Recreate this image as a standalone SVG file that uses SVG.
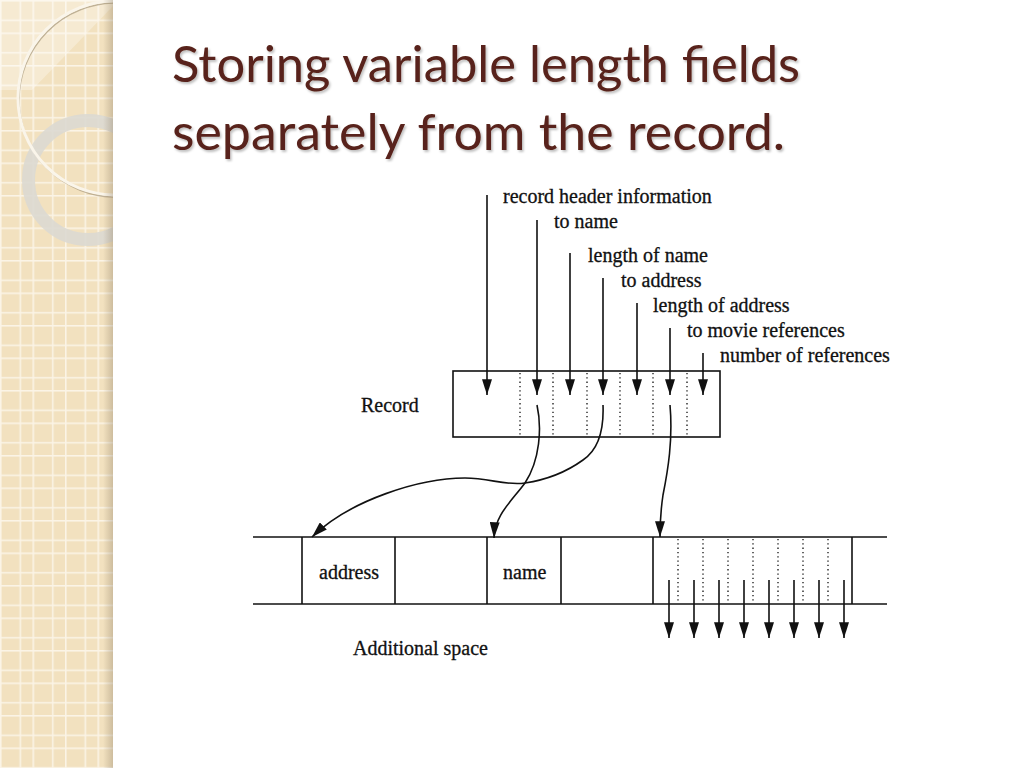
<svg xmlns="http://www.w3.org/2000/svg" width="1024" height="768" viewBox="0 0 1024 768">
  <defs>
    <style>
      .ln { stroke: #111; stroke-width: 1.6; fill: none; }
      .dot { stroke: #222; stroke-width: 1.4; stroke-dasharray: 1.3 3; fill: none; }
      .arr { stroke: #111; stroke-width: 1.6; fill: none; marker-end: url(#ah); }
      .lbl { font-family: "Liberation Serif", "Times New Roman", serif; font-size: 20px; fill: #111; stroke: #111; stroke-width: 0.3; }
      .ttl { font-family: Lato, "Open Sans", sans-serif; font-size: 50px; fill: #58241a; }
    </style>
    <marker id="ah" markerUnits="userSpaceOnUse" markerWidth="16" markerHeight="10" refX="15" refY="4.75" orient="auto" viewBox="0 0 15 9.5">
      <path d="M0,0 L15,4.75 L0,9.5 z" fill="#111"/>
    </marker>
    <pattern id="grid" x="0" y="0" width="32.5" height="32.5" patternUnits="userSpaceOnUse">
      <rect width="32.5" height="32.5" fill="#f2e1bf"/>
      <rect x="0" y="0" width="1.6" height="32.5" fill="#fbf4e6"/>
      <rect x="19.5" y="0" width="1.6" height="32.5" fill="#fbf4e6"/>
      <rect x="0" y="0" width="32.5" height="1.6" fill="#fbf4e6"/>
      <rect x="0" y="19.5" width="32.5" height="1.6" fill="#fbf4e6"/>
    </pattern>
    <linearGradient id="edge" x1="0" y1="0" x2="1" y2="0">
      <stop offset="0" stop-color="#8a7a60" stop-opacity="0"/>
      <stop offset="1" stop-color="#8a7a60" stop-opacity="0.35"/>
    </linearGradient>
    <clipPath id="side"><rect x="0" y="0" width="113" height="768"/></clipPath>
    <filter id="sh" x="-5%" y="-20%" width="110%" height="140%">
      <feDropShadow dx="1.5" dy="2" stdDeviation="1.2" flood-color="#000" flood-opacity="0.25"/>
    </filter>
  </defs>

  <rect width="1024" height="768" fill="#ffffff"/>

  <g id="sidebar" clip-path="url(#side)">
    <rect x="0" y="0" width="113" height="768" fill="url(#grid)"/>
    <polygon points="0,0 113,0 113,6 32,90 0,90" fill="#ffffff" opacity="0.3"/>
    <circle cx="88" cy="180" r="59.5" fill="none" stroke="#dcd9d2" stroke-width="13" opacity="0.9"/>
    <circle cx="116" cy="100" r="97" fill="none" stroke="#a8987a" stroke-width="1.5" opacity="0.7"/>
    <circle cx="115" cy="98" r="97" fill="none" stroke="#faf5ea" stroke-width="3"/>
    <rect x="103" y="0" width="10" height="768" fill="url(#edge)"/>
  </g>

  <g id="title" filter="url(#sh)">
    <text class="ttl" x="172" y="82" textLength="628" lengthAdjust="spacingAndGlyphs">Storing variable length fields</text>
    <text class="ttl" x="172" y="150" textLength="613" lengthAdjust="spacingAndGlyphs">separately from the record.</text>
  </g>

  <g id="field-labels">
    <text class="lbl" x="503" y="203">record header information</text>
    <text class="lbl" x="554" y="228">to name</text>
    <text class="lbl" x="588" y="262">length of name</text>
    <text class="lbl" x="621" y="287">to address</text>
    <text class="lbl" x="653" y="312">length of address</text>
    <text class="lbl" x="687" y="337">to movie references</text>
    <text class="lbl" x="720" y="362">number of references</text>
  </g>

  <g id="record">
    <rect class="ln" x="453" y="371" width="267" height="66"/>
    <line class="dot" x1="520" y1="373" x2="520" y2="436"/>
    <line class="dot" x1="553" y1="373" x2="553" y2="436"/>
    <line class="dot" x1="587" y1="373" x2="587" y2="436"/>
    <line class="dot" x1="620" y1="373" x2="620" y2="436"/>
    <line class="dot" x1="653" y1="373" x2="653" y2="436"/>
    <line class="dot" x1="687" y1="373" x2="687" y2="436"/>
    <text class="lbl" x="361" y="412">Record</text>
  </g>

  <g id="additional-space">
    <line class="ln" x1="253" y1="537" x2="887" y2="537"/>
    <line class="ln" x1="253" y1="604" x2="887" y2="604"/>
    <line class="ln" x1="302" y1="537" x2="302" y2="604"/>
    <line class="ln" x1="395" y1="537" x2="395" y2="604"/>
    <line class="ln" x1="487" y1="537" x2="487" y2="604"/>
    <line class="ln" x1="561" y1="537" x2="561" y2="604"/>
    <line class="ln" x1="653" y1="537" x2="653" y2="604"/>
    <line class="ln" x1="852" y1="537" x2="852" y2="604"/>
    <text class="lbl" x="319" y="579">address</text>
    <text class="lbl" x="503" y="579">name</text>
    <text class="lbl" x="353" y="655">Additional space</text>
  </g>

  <g id="references">
    <line class="dot" x1="678" y1="539" x2="678" y2="603"/>
    <line class="dot" x1="703" y1="539" x2="703" y2="603"/>
    <line class="dot" x1="728" y1="539" x2="728" y2="603"/>
    <line class="dot" x1="753" y1="539" x2="753" y2="603"/>
    <line class="dot" x1="778" y1="539" x2="778" y2="603"/>
    <line class="dot" x1="803" y1="539" x2="803" y2="603"/>
    <line class="dot" x1="828" y1="539" x2="828" y2="603"/>
  </g>

  <g id="connectors">
    <line class="arr" x1="487" y1="195" x2="487" y2="395"/>
    <line class="arr" x1="537" y1="220" x2="537" y2="395"/>
    <line class="arr" x1="570" y1="253" x2="570" y2="395"/>
    <line class="arr" x1="603" y1="278" x2="603" y2="395"/>
    <line class="arr" x1="637" y1="303" x2="637" y2="395"/>
    <line class="arr" x1="670" y1="328" x2="670" y2="395"/>
    <line class="arr" x1="703" y1="353" x2="703" y2="395"/>

    <path class="arr" d="M537,405 C542,428 540,460 525,483 C510,503 495,515 494,538"/>
    <path class="arr" d="M603,405 C604,430 598,450 583,460 C565,473 545,480 525,483 C505,486 490,478 465,478 C420,478 350,500 312,537"/>
    <path class="arr" d="M670,405 C673,440 668,470 663,495 C660,515 660,525 660,537"/>

    <line class="arr" x1="669" y1="580" x2="669" y2="638"/>
    <line class="arr" x1="694" y1="580" x2="694" y2="638"/>
    <line class="arr" x1="719" y1="580" x2="719" y2="638"/>
    <line class="arr" x1="744" y1="580" x2="744" y2="638"/>
    <line class="arr" x1="769" y1="580" x2="769" y2="638"/>
    <line class="arr" x1="794" y1="580" x2="794" y2="638"/>
    <line class="arr" x1="819" y1="580" x2="819" y2="638"/>
    <line class="arr" x1="844" y1="580" x2="844" y2="638"/>
  </g>
</svg>
